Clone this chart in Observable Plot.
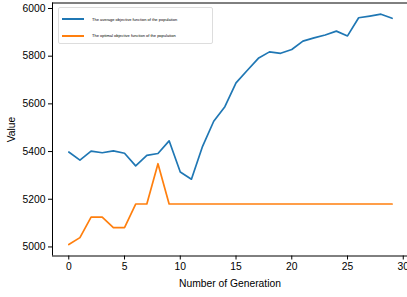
<!DOCTYPE html>
<html>
<head>
<meta charset="utf-8">
<script src="https://cdn.jsdelivr.net/npm/d3@7"></script>
<script src="https://cdn.jsdelivr.net/npm/@observablehq/plot@0.6"></script>
<style>
  html, body { margin: 0; padding: 0; background: #fff; overflow: hidden; }
  #wrap { position: relative; width: 407px; height: 297px; }
  #legend { position: absolute; left: 58px; top: 7px; width: 155px; height: 37px;
    border: 1px solid #ddd; border-radius: 2px; background: rgba(255,255,255,0.8);
    box-sizing: border-box; font-family: "Liberation Sans", Arial, sans-serif; font-size: 4px; color: #000; }
  .item { position: absolute; left: 3px; display: flex; align-items: center; white-space: nowrap; }
  .sw { width: 22px; height: 2px; margin-right: 8px; }
</style>
</head>
<body>
<div id="wrap"><div id="legend"></div></div>
<script>
const generations = d3.range(0, 30);
const averageValues = [5398, 5364, 5402, 5395, 5403, 5393, 5340, 5384, 5392, 5445,
  5314, 5284, 5422, 5527, 5588, 5688, 5740, 5791, 5818, 5812,
  5828, 5863, 5877, 5889, 5905, 5885, 5961, 5968, 5976, 5959];
const optimalValues = [5010, 5039, 5125, 5125, 5081, 5081, 5180, 5180, 5349, 5180,
  5180, 5180, 5180, 5180, 5180, 5180, 5180, 5180, 5180, 5180,
  5180, 5180, 5180, 5180, 5180, 5180, 5180, 5180, 5180, 5180];
const seriesNames = ["The average objective function of the population", "The optimal objective function of the population"];
const seriesColors = ["#1f77b4", "#ff7f0e"];
const xTicks = [0, 5, 10, 15, 20, 25, 30];
const yTicks = [5000, 5200, 5400, 5600, 5800, 6000];

const rows = [];
generations.forEach((g, i) => {
  rows.push({g, v: averageValues[i], s: seriesNames[0]});
  rows.push({g, v: optimalValues[i], s: seriesNames[1]});
});

const xDomain = [-1.46, 30.38];
const yDomain = [4962, 6023];

const chart = Plot.plot({
  width: 407, height: 297,
  marginLeft: 52, marginRight: 0, marginTop: 2.5, marginBottom: 41.5,
  style: {fontFamily: "'Liberation Sans', Arial, sans-serif", fontSize: "10.3px", color: "#000", background: "#fff"},
  x: {domain: xDomain, ticks: xTicks, tickFormat: d => String(d), tickSize: 4, tickPadding: 3,
      label: "Number of Generation", labelAnchor: "center", labelOffset: 31, labelArrow: false},
  y: {domain: yDomain, ticks: yTicks, tickFormat: d => String(d), tickSize: 4, tickPadding: 3,
      label: "Value", labelAnchor: "center", labelOffset: 45, labelArrow: false},
  color: {domain: seriesNames, range: seriesColors},
  marks: [
    Plot.line(rows, {x: "g", y: "v", z: "s", stroke: "s", strokeWidth: 1.7}),
    Plot.ruleX([xDomain[0]], {stroke: "#000", strokeWidth: 1}),
    Plot.ruleY([yDomain[0], yDomain[1]], {stroke: "#000", strokeWidth: 1})
  ]
});
document.getElementById("wrap").prepend(chart);

const legend = document.getElementById("legend");
seriesNames.forEach((name, i) => {
  const item = document.createElement("div");
  item.className = "item";
  item.style.top = (i === 0 ? 8.5 : 25) + "px";
  const sw = document.createElement("div");
  sw.className = "sw";
  sw.style.background = seriesColors[i];
  const t = document.createElement("span");
  t.textContent = name;
  item.append(sw, t);
  legend.append(item);
});
</script>
</body>
</html>
